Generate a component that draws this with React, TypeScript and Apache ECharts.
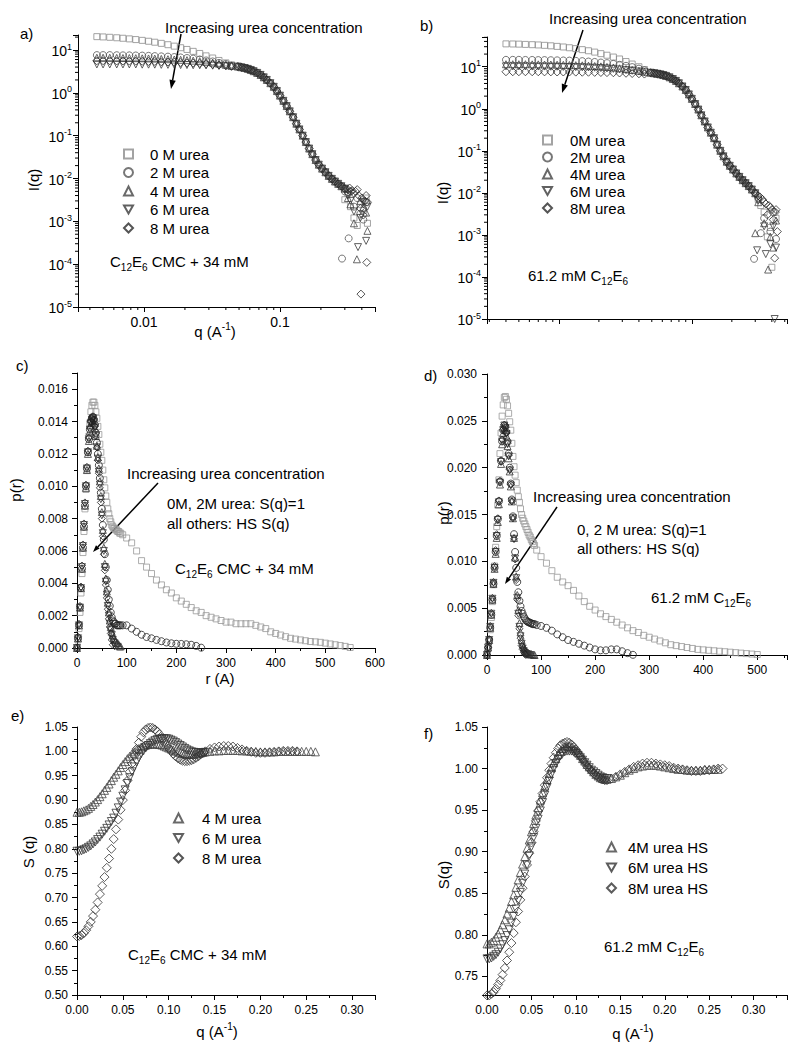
import React, { useEffect, useRef } from 'react';
import * as echarts from 'echarts';

const FONT = "'Liberation Sans', Arial, Helvetica, sans-serif";

// ---------- Panel a : I(q), C12E6 CMC + 34 mM ----------
const qALow = [0.0045, 0.005, 0.0056, 0.0063, 0.007, 0.0078, 0.0087, 0.0097, 0.0108, 0.012, 0.0134, 0.015, 0.0167, 0.0186, 0.0207, 0.023, 0.0257, 0.0286, 0.032, 0.0356, 0.04, 0.044];
const iA0Low = [20.5, 20.2, 19.8, 19.3, 18.8, 18.2, 17.5, 16.8, 16, 15.2, 14.3, 13.3, 12.3, 11.3, 10.3, 9.3, 8.3, 7.3, 6.5, 5.7, 5, 4.5];
const iA2Low = [7.6, 7.6, 7.6, 7.55, 7.5, 7.5, 7.45, 7.4, 7.3, 7.2, 7.1, 7.0, 6.85, 6.7, 6.5, 6.3, 6.0, 5.7, 5.4, 5.0, 4.7, 4.3];
const iA4Low = [6.6, 6.6, 6.6, 6.55, 6.5, 6.5, 6.45, 6.4, 6.35, 6.3, 6.2, 6.1, 6.0, 5.9, 5.8, 5.65, 5.5, 5.3, 5.1, 4.8, 4.5, 4.25];
const iA6Low = [4.6, 4.6, 4.6, 4.6, 4.6, 4.6, 4.6, 4.55, 4.55, 4.55, 4.5, 4.5, 4.5, 4.45, 4.45, 4.4, 4.4, 4.35, 4.3, 4.25, 4.2, 4.1];
const iA8Low = [5.6, 5.6, 5.6, 5.55, 5.55, 5.5, 5.5, 5.45, 5.4, 5.4, 5.3, 5.25, 5.2, 5.1, 5.0, 4.95, 4.85, 4.75, 4.6, 4.45, 4.3, 4.15];
const qMid = [0.049, 0.052, 0.055, 0.058, 0.061, 0.064, 0.068, 0.072, 0.076, 0.08, 0.085, 0.09, 0.095, 0.1, 0.106, 0.112, 0.118, 0.125, 0.132, 0.139, 0.147, 0.155, 0.164, 0.173, 0.183, 0.193, 0.204, 0.216, 0.228, 0.241, 0.254, 0.268, 0.283, 0.3];
const iAMid = [4.1, 3.95, 3.8, 3.62, 3.42, 3.2, 2.92, 2.62, 2.3, 2.0, 1.68, 1.38, 1.1, 0.86, 0.65, 0.49, 0.37, 0.27, 0.19, 0.14, 0.1, 0.071, 0.05, 0.037, 0.027, 0.021, 0.017, 0.014, 0.0115, 0.0098, 0.0085, 0.0075, 0.0066, 0.0058];
const highA0 = [[0.30, 0.0032], [0.316, 0.0045], [0.33, 0.0022], [0.35, 0.0012], [0.37, 0.0008], [0.39, 0.0025], [0.41, 0.0018], [0.43, 0.0035], [0.44, 0.0009]];
const highA2 = [[0.286, 0.000135], [0.30, 0.005], [0.316, 0.0048], [0.32, 0.0004], [0.35, 0.0022], [0.37, 0.0035], [0.39, 0.0015], [0.41, 0.0011], [0.43, 0.0028]];
const highA4 = [[0.316, 0.0035], [0.33, 0.0025], [0.35, 0.0009], [0.368, 0.00013], [0.39, 0.003], [0.41, 0.0021], [0.43, 0.0016], [0.44, 0.0006]];
const highA6 = [[0.316, 0.004], [0.33, 0.003], [0.35, 0.0017], [0.375, 0.00025], [0.39, 0.0012], [0.41, 0.0028], [0.43, 0.00035], [0.44, 0.0022]];
const highA8 = [[0.316, 0.0055], [0.325, 0.006], [0.33, 0.005], [0.34, 0.0052], [0.35, 0.0045], [0.36, 0.005], [0.37, 0.0055], [0.38, 0.004], [0.39, 0.002], [0.394, 0.00002], [0.40, 0.0035], [0.41, 0.0014], [0.42, 0.003], [0.43, 0.004], [0.435, 0.00011], [0.44, 0.0028]];

// ---------- Panel b : I(q), 61.2 mM C12E6 ----------
const qBLow = [0.004, 0.0045, 0.005, 0.0056, 0.0063, 0.007, 0.0078, 0.0087, 0.0097, 0.0108, 0.012, 0.0134, 0.015, 0.0167, 0.0186, 0.0207, 0.023, 0.0257, 0.0286, 0.032, 0.0356, 0.04, 0.044];
const iB0Low = [35, 34.8, 34.5, 34, 33.5, 33, 32.3, 31.5, 30.5, 29.5, 28.3, 27, 25.5, 24, 22.3, 20.5, 18.8, 17, 15.3, 13.3, 11.6, 10, 8.6];
const iB2Low = [14.6, 14.6, 14.6, 14.5, 14.5, 14.4, 14.4, 14.3, 14.2, 14.1, 14.0, 13.8, 13.6, 13.3, 13.0, 12.6, 12.2, 11.7, 11.1, 10.5, 9.8, 9.0, 8.2];
const iB4Low = [11.5, 11.5, 11.5, 11.5, 11.4, 11.4, 11.3, 11.3, 11.2, 11.1, 11.0, 10.9, 10.8, 10.6, 10.4, 10.2, 9.9, 9.6, 9.2, 8.8, 8.4, 8.0, 7.6];
const iB6Low = [10.2, 10.2, 10.2, 10.2, 10.1, 10.1, 10.1, 10.0, 10.0, 9.9, 9.9, 9.8, 9.7, 9.6, 9.5, 9.3, 9.1, 8.9, 8.6, 8.3, 8.0, 7.7, 7.4];
const iB8Low = [7.6, 7.6, 7.6, 7.6, 7.6, 7.6, 7.55, 7.55, 7.5, 7.5, 7.5, 7.45, 7.4, 7.4, 7.35, 7.3, 7.25, 7.2, 7.1, 7.0, 6.9, 6.8, 6.7];
const iBMid = [7.2, 7.0, 6.8, 6.6, 6.35, 6.05, 5.6, 5.1, 4.6, 4.05, 3.4, 2.8, 2.2, 1.72, 1.3, 0.96, 0.7, 0.5, 0.36, 0.27, 0.2, 0.14, 0.1, 0.074, 0.055, 0.044, 0.036, 0.029, 0.024, 0.02, 0.017, 0.0145, 0.012, 0.0098];
const highB0 = [[0.316, 0.007], [0.33, 0.005], [0.35, 0.0035], [0.37, 0.0009], [0.39, 0.0015], [0.40, 0.00017], [0.43, 0.0025]];
const highB2 = [[0.294, 0.00027], [0.316, 0.0075], [0.33, 0.0011], [0.35, 0.0025], [0.39, 0.0012], [0.41, 0.0035], [0.43, 0.0008]];
const highB4 = [[0.30, 0.0011], [0.316, 0.006], [0.35, 0.0019], [0.375, 0.00015], [0.39, 0.0009], [0.41, 0.0005], [0.43, 0.0022]];
const highB6 = [[0.31, 0.00043], [0.316, 0.0065], [0.35, 0.0016], [0.36, 0.00035], [0.39, 0.0006], [0.41, 0.0016], [0.42, 0.00001], [0.43, 0.0005]];
const highB8 = [[0.316, 0.0085], [0.325, 0.008], [0.34, 0.007], [0.35, 0.006], [0.36, 0.0055], [0.37, 0.003], [0.38, 0.005], [0.39, 0.0045], [0.40, 0.004], [0.41, 0.0023], [0.42, 0.00028], [0.425, 0.0035], [0.43, 0.004], [0.44, 0.0012]];

// ---------- Panel c : p(r), C12E6 CMC + 34 mM ----------
const rPeak = [0, 2, 4, 6, 8, 10, 12, 14, 16, 18, 20, 22, 24, 26, 28, 30, 32, 34, 36, 38, 40, 42, 44, 46, 48, 50, 52, 54, 56, 58, 60, 62, 64, 66, 68, 70, 72, 74, 76, 78, 80, 82, 84, 86, 88];
const pC0 = [0, 0.0005, 0.0012, 0.0022, 0.0034, 0.0046, 0.0059, 0.0072, 0.0086, 0.0098, 0.0110, 0.0121, 0.0131, 0.0139, 0.0146, 0.0150, 0.0152, 0.0152, 0.0150, 0.0146, 0.0142, 0.0137, 0.0132, 0.0126, 0.0121, 0.0116, 0.0110, 0.0104, 0.0099, 0.0094, 0.0090, 0.0086, 0.0083, 0.0080, 0.0078, 0.0076, 0.0075, 0.0074, 0.0074, 0.0073, 0.0073, 0.0072, 0.0072, 0.0071, 0.0071];
const rC0Tail = [92, 100, 110, 120, 130, 140, 150, 160, 170, 180, 190, 200, 210, 220, 230, 240, 250, 260, 270, 280, 290, 300, 310, 320, 330, 340, 350, 360, 370, 380, 390, 400, 410, 420, 430, 440, 450, 460, 470, 480, 490, 500, 510, 520, 530, 540, 550];
const pC0Tail = [0.0070, 0.0068, 0.0065, 0.0060, 0.0054, 0.0050, 0.0046, 0.0042, 0.0039, 0.0036, 0.0034, 0.0031, 0.0029, 0.0027, 0.0025, 0.0023, 0.0022, 0.0020, 0.0019, 0.0018, 0.0017, 0.0016, 0.0016, 0.0015, 0.0015, 0.0015, 0.0015, 0.0014, 0.0013, 0.0012, 0.0010, 0.0009, 0.0008, 0.0007, 0.0006, 0.00055, 0.0005, 0.00045, 0.0004, 0.00038, 0.00035, 0.0003, 0.00025, 0.0002, 0.00015, 0.0001, 0.00003];
const pC2 = [0, 0.0006, 0.0014, 0.0025, 0.0037, 0.0049, 0.0062, 0.0075, 0.0088, 0.0100, 0.0111, 0.0121, 0.0129, 0.0135, 0.0140, 0.0142, 0.0143, 0.0141, 0.0138, 0.0133, 0.0127, 0.0120, 0.0113, 0.0105, 0.0096, 0.0086, 0.0076, 0.0067, 0.0058, 0.0050, 0.0042, 0.0036, 0.0030, 0.0026, 0.0022, 0.0019, 0.0017, 0.0016, 0.0015, 0.0015, 0.0014, 0.0014, 0.0014, 0.0014, 0.0014];
const rC2Tail = [92, 100, 110, 120, 130, 140, 150, 160, 170, 180, 190, 200, 210, 220, 230, 240, 250];
const pC2Tail = [0.0014, 0.0014, 0.0012, 0.0010, 0.00082, 0.00068, 0.0006, 0.0005, 0.00042, 0.00034, 0.00029, 0.00026, 0.00025, 0.00023, 0.0002, 0.00013, 0.00002];
const pC4 = [0, 0.0006, 0.0014, 0.0025, 0.0037, 0.0049, 0.0062, 0.0075, 0.0088, 0.0099, 0.0110, 0.0120, 0.0128, 0.0134, 0.0138, 0.0140, 0.0141, 0.0139, 0.0136, 0.0131, 0.0125, 0.0118, 0.0111, 0.0103, 0.0094, 0.0084, 0.0073, 0.0062, 0.0052, 0.0043, 0.0035, 0.0028, 0.0022, 0.0017, 0.0013, 0.0010, 0.0008, 0.0006, 0.0005, 0.0004, 0.0003, 0.0003, 0.0002, 0.0001, 0.0001];
const pC6 = [0, 0.0006, 0.0014, 0.0025, 0.0037, 0.0050, 0.0063, 0.0076, 0.0089, 0.0100, 0.0111, 0.0121, 0.0129, 0.0135, 0.0139, 0.0141, 0.0142, 0.0140, 0.0136, 0.0131, 0.0124, 0.0117, 0.0109, 0.0101, 0.0092, 0.0082, 0.0071, 0.0060, 0.0050, 0.0041, 0.0033, 0.0026, 0.0020, 0.0015, 0.0011, 0.0008, 0.0005, 0.0003, 0.0001];
const pC8 = [0, 0.0007, 0.0015, 0.0026, 0.0038, 0.0051, 0.0064, 0.0077, 0.0090, 0.0101, 0.0112, 0.0122, 0.0130, 0.0136, 0.0140, 0.0142, 0.0143, 0.0141, 0.0137, 0.0131, 0.0124, 0.0116, 0.0108, 0.0099, 0.0090, 0.0080, 0.0069, 0.0058, 0.0048, 0.0039, 0.0031, 0.0024, 0.0018, 0.0013, 0.0009, 0.0005, 0.0002];

// ---------- Panel d : p(r), 61.2 mM C12E6 ----------
const pD0 = [0, 0.0007, 0.0015, 0.0027, 0.0040, 0.0057, 0.0075, 0.0095, 0.0115, 0.0137, 0.0160, 0.0187, 0.0215, 0.0237, 0.0255, 0.0267, 0.0275, 0.0276, 0.0273, 0.0266, 0.0258, 0.0249, 0.0240, 0.0226, 0.0212, 0.0201, 0.0192, 0.0184, 0.0176, 0.0169, 0.0163, 0.0156, 0.0150, 0.0146, 0.0143, 0.0140, 0.0137, 0.0134, 0.0131, 0.0128, 0.0126, 0.0123, 0.0121, 0.0119, 0.0117];
const rD0Tail = [92, 100, 110, 120, 130, 140, 150, 160, 170, 180, 190, 200, 210, 220, 230, 240, 250, 260, 270, 280, 290, 300, 310, 320, 330, 340, 350, 360, 370, 380, 390, 400, 410, 420, 430, 440, 450, 460, 470, 480, 490, 500];
const pD0Tail = [0.0112, 0.0105, 0.0098, 0.0090, 0.0083, 0.0078, 0.0074, 0.0069, 0.0063, 0.0057, 0.0052, 0.0048, 0.0044, 0.0041, 0.0038, 0.0035, 0.0032, 0.0029, 0.0026, 0.0024, 0.0021, 0.0019, 0.0017, 0.0015, 0.0013, 0.0011, 0.0010, 0.0009, 0.0008, 0.0007, 0.0006, 0.00055, 0.0005, 0.00045, 0.0004, 0.00035, 0.0003, 0.00025, 0.0002, 0.00015, 0.0001, 0.00005];
const pD2 = [0, 0.0008, 0.0016, 0.0029, 0.0043, 0.0059, 0.0076, 0.0093, 0.0110, 0.0127, 0.0145, 0.0164, 0.0185, 0.0207, 0.0228, 0.0240, 0.0245, 0.0244, 0.0238, 0.0228, 0.0215, 0.0200, 0.0183, 0.0166, 0.0148, 0.0129, 0.0110, 0.0093, 0.0078, 0.0067, 0.0058, 0.0052, 0.0047, 0.0044, 0.0041, 0.0039, 0.0037, 0.0036, 0.0035, 0.0035, 0.0034, 0.0034, 0.0033, 0.0033, 0.0033];
const rD2Tail = [92, 100, 110, 120, 130, 140, 150, 160, 170, 180, 190, 200, 210, 220, 230, 240, 250, 260, 270];
const pD2Tail = [0.0032, 0.0031, 0.0029, 0.0026, 0.0022, 0.0019, 0.0016, 0.0014, 0.0012, 0.0010, 0.0008, 0.0006, 0.0005, 0.0005, 0.0006, 0.0006, 0.0004, 0.0002, 0.00002];
const pD4 = [0, 0.0008, 0.0016, 0.0029, 0.0043, 0.0059, 0.0076, 0.0092, 0.0108, 0.0125, 0.0142, 0.0161, 0.0182, 0.0204, 0.0225, 0.0237, 0.0242, 0.0240, 0.0234, 0.0223, 0.0210, 0.0196, 0.0180, 0.0164, 0.0146, 0.0125, 0.0104, 0.0084, 0.0064, 0.0048, 0.0034, 0.0024, 0.0016, 0.0011, 0.0008, 0.0006, 0.0004, 0.0003, 0.0002, 0.00015, 0.0001, 0.0001, 0.00005, 0.00003, 0];
const pD6 = [0, 0.0008, 0.0016, 0.0030, 0.0044, 0.0060, 0.0077, 0.0093, 0.0110, 0.0127, 0.0144, 0.0163, 0.0184, 0.0206, 0.0228, 0.0240, 0.0245, 0.0242, 0.0236, 0.0225, 0.0212, 0.0197, 0.0181, 0.0164, 0.0146, 0.0124, 0.0103, 0.0082, 0.0061, 0.0044, 0.0030, 0.0020, 0.0012, 0.0007, 0.0004, 0.0002, 0.0001, 0.00005, 0];
const pD8 = [0, 0.0008, 0.0017, 0.0031, 0.0045, 0.0061, 0.0078, 0.0095, 0.0112, 0.0129, 0.0146, 0.0165, 0.0186, 0.0208, 0.0230, 0.0241, 0.0246, 0.0243, 0.0237, 0.0226, 0.0213, 0.0198, 0.0182, 0.0164, 0.0146, 0.0124, 0.0102, 0.0080, 0.0059, 0.0042, 0.0028, 0.0018, 0.0010, 0.0006, 0.0003, 0.0001, 0];

// ---------- Panel e : S(q), C12E6 CMC + 34 mM ----------
const qE = [0, 0.0025, 0.005, 0.0075, 0.01, 0.0125, 0.015, 0.0175, 0.02, 0.0225, 0.025, 0.0275, 0.03, 0.0325, 0.035, 0.0375, 0.04, 0.0425, 0.045, 0.0475, 0.05, 0.0525, 0.055, 0.0575, 0.06, 0.0625, 0.065, 0.0675, 0.07, 0.0725, 0.075, 0.0775, 0.08, 0.0825, 0.085, 0.0875, 0.09, 0.0925, 0.095, 0.0975, 0.1, 0.1025, 0.105, 0.1075, 0.11, 0.1125, 0.115, 0.1175, 0.12, 0.1225, 0.125, 0.1275, 0.13, 0.1325, 0.135, 0.1375, 0.14];
const sE4 = [0.875, 0.875, 0.876, 0.878, 0.880, 0.883, 0.887, 0.891, 0.896, 0.901, 0.907, 0.913, 0.920, 0.926, 0.933, 0.940, 0.947, 0.953, 0.960, 0.967, 0.973, 0.979, 0.985, 0.990, 0.995, 0.999, 1.003, 1.006, 1.009, 1.011, 1.013, 1.014, 1.015, 1.015, 1.015, 1.015, 1.014, 1.013, 1.011, 1.009, 1.007, 1.005, 1.003, 1.001, 0.999, 0.997, 0.996, 0.995, 0.994, 0.994, 0.994, 0.994, 0.995, 0.996, 0.997, 0.998, 0.999];
const qE4Tail = [0.145, 0.15, 0.155, 0.16, 0.165, 0.17, 0.175, 0.18, 0.185, 0.19, 0.195, 0.2, 0.205, 0.21, 0.215, 0.22, 0.225, 0.23, 0.235, 0.24, 0.245, 0.25, 0.255, 0.26];
const sE4Tail = [1.000, 1.001, 1.001, 1.002, 1.002, 1.002, 1.002, 1.001, 1.001, 1.000, 1.000, 0.999, 0.999, 0.999, 0.999, 1.000, 1.000, 1.000, 1.000, 1.000, 1.000, 1.000, 1.000, 0.999];
const sE6 = [0.795, 0.795, 0.796, 0.798, 0.800, 0.803, 0.806, 0.810, 0.814, 0.819, 0.824, 0.830, 0.836, 0.842, 0.849, 0.856, 0.863, 0.873, 0.884, 0.896, 0.908, 0.921, 0.934, 0.946, 0.958, 0.968, 0.978, 0.987, 0.995, 1.001, 1.007, 1.012, 1.016, 1.019, 1.022, 1.024, 1.025, 1.026, 1.026, 1.026, 1.025, 1.023, 1.021, 1.018, 1.015, 1.012, 1.009, 1.006, 1.003, 1.001, 0.999, 0.998, 0.997, 0.997, 0.997, 0.997, 0.998];
const sE8 = [0.620, 0.621, 0.623, 0.627, 0.633, 0.641, 0.650, 0.662, 0.675, 0.690, 0.707, 0.724, 0.742, 0.761, 0.780, 0.800, 0.820, 0.840, 0.860, 0.880, 0.900, 0.920, 0.940, 0.958, 0.975, 0.991, 1.005, 1.018, 1.030, 1.039, 1.045, 1.048, 1.049, 1.048, 1.045, 1.041, 1.035, 1.028, 1.021, 1.014, 1.007, 1.001, 0.995, 0.990, 0.986, 0.983, 0.981, 0.980, 0.980, 0.981, 0.982, 0.984, 0.987, 0.990, 0.994, 0.997, 1.000];
const qE8Tail = [0.145, 0.15, 0.155, 0.16, 0.165, 0.17, 0.175, 0.18, 0.185, 0.19, 0.195, 0.2, 0.205, 0.21, 0.215, 0.22, 0.225, 0.23, 0.235, 0.24];
const sE8Tail = [1.005, 1.008, 1.010, 1.011, 1.011, 1.010, 1.007, 1.004, 1.001, 0.999, 0.997, 0.997, 0.997, 0.998, 0.999, 1.000, 1.001, 1.001, 1.001, 1.000];

// ---------- Panel f : S(q), 61.2 mM C12E6 ----------
const qF = [0, 0.0025, 0.005, 0.0075, 0.01, 0.0125, 0.015, 0.0175, 0.02, 0.0225, 0.025, 0.0275, 0.03, 0.0325, 0.035, 0.0375, 0.04, 0.0425, 0.045, 0.0475, 0.05, 0.0525, 0.055, 0.0575, 0.06, 0.0625, 0.065, 0.0675, 0.07, 0.0725, 0.075, 0.0775, 0.08, 0.0825, 0.085, 0.0875, 0.09, 0.0925, 0.095, 0.0975, 0.1, 0.1025, 0.105, 0.1075, 0.11, 0.1125, 0.115, 0.1175, 0.12, 0.1225, 0.125, 0.1275, 0.13, 0.1325, 0.135];
const sF4 = [0.789, 0.789, 0.791, 0.793, 0.797, 0.801, 0.806, 0.812, 0.818, 0.825, 0.832, 0.840, 0.848, 0.857, 0.866, 0.875, 0.885, 0.894, 0.904, 0.914, 0.924, 0.934, 0.944, 0.953, 0.962, 0.971, 0.979, 0.987, 0.994, 1.001, 1.007, 1.012, 1.017, 1.021, 1.024, 1.026, 1.027, 1.027, 1.026, 1.024, 1.022, 1.019, 1.016, 1.012, 1.009, 1.005, 1.002, 0.999, 0.996, 0.993, 0.991, 0.989, 0.988, 0.987, 0.987];
const qF4Tail = [0.14, 0.145, 0.15, 0.155, 0.16, 0.165, 0.17, 0.175, 0.18, 0.185, 0.19, 0.195, 0.2, 0.205, 0.21, 0.215, 0.22, 0.225, 0.23, 0.235, 0.24, 0.245, 0.25, 0.255, 0.26];
const sF4Tail = [0.988, 0.990, 0.992, 0.995, 0.998, 1.000, 1.002, 1.003, 1.004, 1.004, 1.004, 1.003, 1.002, 1.001, 1.000, 0.999, 0.999, 0.998, 0.998, 0.998, 0.998, 0.999, 0.999, 0.999, 0.999];
const sF6 = [0.771, 0.771, 0.772, 0.774, 0.776, 0.779, 0.783, 0.788, 0.793, 0.799, 0.806, 0.814, 0.822, 0.831, 0.841, 0.851, 0.862, 0.873, 0.884, 0.895, 0.906, 0.917, 0.928, 0.939, 0.949, 0.959, 0.968, 0.977, 0.985, 0.993, 1.000, 1.006, 1.011, 1.015, 1.018, 1.020, 1.021, 1.021, 1.021, 1.020, 1.018, 1.016, 1.013, 1.010, 1.007, 1.004, 1.001, 0.998, 0.996, 0.994, 0.992, 0.990, 0.989, 0.988, 0.988];
const sF8 = [0.727, 0.727, 0.729, 0.731, 0.735, 0.740, 0.745, 0.752, 0.760, 0.769, 0.779, 0.790, 0.802, 0.815, 0.828, 0.842, 0.856, 0.870, 0.884, 0.898, 0.911, 0.924, 0.937, 0.949, 0.960, 0.970, 0.980, 0.989, 0.998, 1.006, 1.013, 1.019, 1.024, 1.028, 1.030, 1.031, 1.032, 1.031, 1.029, 1.026, 1.023, 1.019, 1.015, 1.011, 1.007, 1.003, 1.000, 0.997, 0.994, 0.992, 0.990, 0.988, 0.987, 0.986, 0.986];
const qF8Tail = [0.14, 0.145, 0.15, 0.155, 0.16, 0.165, 0.17, 0.175, 0.18, 0.185, 0.19, 0.195, 0.2, 0.205, 0.21, 0.215, 0.22, 0.225, 0.23, 0.235, 0.24, 0.245, 0.25, 0.255, 0.26, 0.265];
const sF8Tail = [0.988, 0.990, 0.993, 0.996, 0.999, 1.002, 1.004, 1.006, 1.007, 1.007, 1.006, 1.005, 1.004, 1.003, 1.001, 1.000, 0.999, 0.998, 0.997, 0.997, 0.997, 0.998, 0.998, 0.999, 1.000, 1.000];

// legend labels
const legendA = ['0 M urea', '2 M urea', '4 M urea', '6 M urea', '8 M urea'];
const legendB = ['0M urea', '2M urea', '4M urea', '6M urea', '8M urea'];
const legendE = ['4 M urea', '6 M urea', '8 M urea'];
const legendF = ['4M urea HS', '6M urea HS', '8M urea HS'];

const zip = (xs: number[], ys: number[]) => ys.map((y, i) => [xs[i], y]);

const HOLLOW = 'rgba(0,0,0,0)';
const INV_TRI = 'path://M0,0L10,0L5,8.66Z';
const SYM = {
  sq: { symbol: 'rect', rot: 0 },
  ci: { symbol: 'circle', rot: 0 },
  tr: { symbol: 'triangle', rot: 0 },
  it: { symbol: 'triangle', rot: 180 },
  di: { symbol: 'diamond', rot: 0 },
};

function sc(name: string, data: any[], sym: { symbol: string; rot: number }, color: string, idx: number, size: number) {
  return {
    type: 'scatter',
    name,
    data,
    xAxisIndex: idx,
    yAxisIndex: idx,
    symbol: sym.symbol,
    symbolRotate: sym.rot,
    symbolSize: sym.symbol === 'rect' ? size - 1 : size,
    itemStyle: { color: HOLLOW, borderColor: color, borderWidth: 1 },
    emphasis: { disabled: true },
    silent: true,
    clip: false,
  };
}

const logFmtY = (v: number) => {
  const e = Math.log10(v);
  const r = Math.round(e);
  if (Math.abs(e - r) > 1e-6) return '';
  return '{b|10}{s|' + r + '}';
};
const logFmtX = (v: number) => {
  const e = Math.log10(v);
  const r = Math.round(e);
  if (Math.abs(e - r) > 1e-6) return '';
  return String(Number(v.toPrecision(3)));
};
const stepFmt = (step: number, dec: number) => (v: number) => {
  const k = v / step;
  return Math.abs(k - Math.round(k)) < 1e-6 ? v.toFixed(dec) : '';
};

const axisBase = (idx: number) => ({
  gridIndex: idx,
  axisLine: { show: true, onZero: false, lineStyle: { color: '#000', width: 1 } },
  axisTick: { show: true, length: 5, lineStyle: { color: '#000', width: 1 } },
  minorTick: { show: true, splitNumber: 2, length: 3, lineStyle: { color: '#000', width: 1 } },
  splitLine: { show: false },
  minorSplitLine: { show: false },
});

const richLog = {
  b: { fontSize: 14, fontFamily: FONT, color: '#000', verticalAlign: 'bottom' },
  s: { fontSize: 9, fontFamily: FONT, color: '#000', verticalAlign: 'bottom', padding: [0, 0, 7, 0] },
};

function txt(x: number, y: number, text: string, extra: any = {}) {
  return {
    type: 'text',
    x,
    y,
    silent: true,
    rotation: extra.rotation || 0,
    style: {
      text,
      fontSize: 15,
      fontFamily: FONT,
      fill: extra.fill || '#000',
      align: extra.align || 'left',
      verticalAlign: 'middle',
      rich: extra.rich,
    },
  };
}

const richSub = {
  m: { fontSize: 15, fontFamily: FONT, color: '#000', verticalAlign: 'bottom', padding: [0, 0, 4, 0] },
  s: { fontSize: 10, fontFamily: FONT, color: '#000', verticalAlign: 'bottom' },
};
const richSup = {
  m: { fontSize: 15, fontFamily: FONT, color: '#000', verticalAlign: 'bottom' },
  s: { fontSize: 10, fontFamily: FONT, color: '#000', verticalAlign: 'bottom', padding: [0, 0, 7, 0] },
};
const richSupFaint = {
  m: { ...richSup.m, color: '#e2e2e2' },
  s: { ...richSup.s, color: '#e2e2e2' },
};

function arrow(x1: number, y1: number, x2: number, y2: number, hl = 9, hw = 3.2) {
  const dx = x2 - x1, dy = y2 - y1;
  const L = Math.sqrt(dx * dx + dy * dy);
  const ux = dx / L, uy = dy / L;
  const bx = x2 - ux * hl, by = y2 - uy * hl;
  return [
    { type: 'line', silent: true, shape: { x1, y1, x2: bx, y2: by }, style: { stroke: '#000', lineWidth: 1.5 } },
    {
      type: 'polygon', silent: true,
      shape: { points: [[x2, y2], [bx - uy * hw, by + ux * hw], [bx + uy * hw, by - ux * hw]] },
      style: { fill: '#000' },
    },
  ];
}

function legendCfg(names: string[], invIdx: number, left: number, top: number, gap: number, pad: number) {
  return {
    orient: 'vertical',
    left,
    top,
    itemWidth: 9,
    itemHeight: 9,
    itemGap: gap,
    selectedMode: false,
    data: names.map((n, i) => (i === invIdx ? { name: n, icon: INV_TRI } : n)),
    textStyle: { fontSize: 15, fontFamily: FONT, color: '#000', padding: [0, 0, 0, pad], lineHeight: 16 },
  };
}

const GRIDS = [
  { left: 78, top: 35, width: 297, height: 272 },
  { left: 487, top: 37, width: 300, height: 282 },
  { left: 77, top: 373, width: 298, height: 275 },
  { left: 487, top: 374, width: 300, height: 281 },
  { left: 77, top: 727, width: 298, height: 268 },
  { left: 487, top: 727, width: 300, height: 268 },
];

// log-axis extents (a: x, y; b: x, y)
const LOG_X = [[0.00327, 0.5], [0.00288, 0.52]];
const LOG_Y = [[0.00001, 22.4], [0.00001, 51]];

export default function App() {
  const ref = useRef<HTMLDivElement>(null);
  useEffect(() => {
    document.body.style.margin = '0';
    const chart = echarts.init(ref.current!, null, { renderer: 'svg' });

    const lbl = (fmt: any, margin: number) => ({ formatter: fmt, fontSize: 12, fontFamily: FONT, color: '#000', margin });
    const noMinor = { show: false };

    const xAxes: any[] = [
      { ...axisBase(0), type: 'log', min: LOG_X[0][0], max: LOG_X[0][1], minorTick: noMinor,
        axisLabel: { formatter: logFmtX, fontSize: 14, fontFamily: FONT, color: '#000', margin: 8 } },
      { ...axisBase(1), type: 'log', min: LOG_X[1][0], max: LOG_X[1][1], minorTick: noMinor,
        axisLabel: { show: false } },
      { ...axisBase(2), type: 'value', min: 0, max: 600, interval: 100, axisLabel: lbl(stepFmt(100, 0), 9) },
      { ...axisBase(3), type: 'value', min: 0, max: 555, interval: 100, axisLabel: lbl(stepFmt(100, 0), 9) },
      { ...axisBase(4), type: 'value', min: 0, max: 0.325, interval: 0.05, axisLabel: lbl(stepFmt(0.05, 2), 9) },
      { ...axisBase(5), type: 'value', min: 0, max: 0.3375, interval: 0.05, axisLabel: lbl(stepFmt(0.05, 2), 9) },
    ];
    const yAxes: any[] = [
      { ...axisBase(0), type: 'log', min: LOG_Y[0][0], max: LOG_Y[0][1], minorTick: noMinor,
        axisLabel: { formatter: logFmtY, rich: richLog, margin: 6 } },
      { ...axisBase(1), type: 'log', min: LOG_Y[1][0], max: LOG_Y[1][1], minorTick: noMinor,
        axisLabel: { formatter: logFmtY, rich: richLog, margin: 6 } },
      { ...axisBase(2), type: 'value', min: 0, max: 0.017, interval: 0.002, axisLabel: lbl(stepFmt(0.002, 3), 9) },
      { ...axisBase(3), type: 'value', min: 0, max: 0.03, interval: 0.005, axisLabel: lbl(stepFmt(0.005, 3), 10) },
      { ...axisBase(4), type: 'value', min: 0.5, max: 1.05, interval: 0.05, axisLabel: lbl(stepFmt(0.05, 2), 9) },
      { ...axisBase(5), type: 'value', min: 0.7275, max: 1.05, splitNumber: 6, axisLabel: lbl(stepFmt(0.05, 2), 9) },
    ];

    const series: any[] = [
      // a
      sc('0 M urea', zip(qALow, iA0Low).concat(zip(qMid, iAMid), highA0), SYM.sq, '#8c8c8c', 0, 7),
      sc('2 M urea', zip(qALow, iA2Low).concat(zip(qMid, iAMid), highA2), SYM.ci, '#555', 0, 7),
      sc('4 M urea', zip(qALow, iA4Low).concat(zip(qMid, iAMid), highA4), SYM.tr, '#444', 0, 7),
      sc('6 M urea', zip(qALow, iA6Low).concat(zip(qMid, iAMid), highA6), SYM.it, '#3a3a3a', 0, 7),
      sc('8 M urea', zip(qALow, iA8Low).concat(zip(qMid, iAMid), highA8), SYM.di, '#2a2a2a', 0, 8),
      // b
      sc('0M urea', zip(qBLow, iB0Low).concat(zip(qMid, iBMid), highB0), SYM.sq, '#8c8c8c', 1, 7),
      sc('2M urea', zip(qBLow, iB2Low).concat(zip(qMid, iBMid), highB2), SYM.ci, '#555', 1, 7),
      sc('4M urea', zip(qBLow, iB4Low).concat(zip(qMid, iBMid), highB4), SYM.tr, '#444', 1, 7),
      sc('6M urea', zip(qBLow, iB6Low).concat(zip(qMid, iBMid), highB6), SYM.it, '#3a3a3a', 1, 7),
      sc('8M urea', zip(qBLow, iB8Low).concat(zip(qMid, iBMid), highB8), SYM.di, '#2a2a2a', 1, 8),
      // c
      sc('c 0 M', zip(rPeak, pC0).concat(zip(rC0Tail, pC0Tail)), SYM.sq, '#999', 2, 7),
      sc('c 4 M', zip(rPeak, pC4), SYM.tr, '#333', 2, 7),
      sc('c 6 M', zip(rPeak, pC6), SYM.it, '#333', 2, 7),
      sc('c 8 M', zip(rPeak, pC8), SYM.di, '#222', 2, 7),
      sc('c 2 M', zip(rPeak, pC2).concat(zip(rC2Tail, pC2Tail)), SYM.ci, '#222', 2, 7),
      // d
      sc('d 0 M', zip(rPeak, pD0).concat(zip(rD0Tail, pD0Tail)), SYM.sq, '#999', 3, 7),
      sc('d 4 M', zip(rPeak, pD4), SYM.tr, '#333', 3, 7),
      sc('d 6 M', zip(rPeak, pD6), SYM.it, '#333', 3, 7),
      sc('d 8 M', zip(rPeak, pD8), SYM.di, '#222', 3, 7),
      sc('d 2 M', zip(rPeak, pD2).concat(zip(rD2Tail, pD2Tail)), SYM.ci, '#222', 3, 7),
      // e
      sc('4 M urea', zip(qE, sE4).concat(zip(qE4Tail, sE4Tail)), SYM.tr, '#444', 4, 8),
      sc('6 M urea', zip(qE, sE6), SYM.it, '#333', 4, 8),
      sc('8 M urea', zip(qE, sE8).concat(zip(qE8Tail, sE8Tail)), SYM.di, '#333', 4, 9),
      // f
      sc('4M urea HS', zip(qF, sF4).concat(zip(qF4Tail, sF4Tail)), SYM.tr, '#444', 5, 8),
      sc('6M urea HS', zip(qF, sF6), SYM.it, '#333', 5, 8),
      sc('8M urea HS', zip(qF, sF8).concat(zip(qF8Tail, sF8Tail)), SYM.di, '#333', 5, 9),
    ];

    const graphics: any[] = [
      // panel letters
      txt(20, 33, 'a)'), txt(420, 25, 'b)'), txt(16, 365, 'c)'),
      txt(424, 375, 'd)'), txt(11, 715, 'e)'), txt(424, 733, 'f)'),
      // a
      txt(165, 27, 'Increasing urea concentration'),
      ...arrow(181, 34, 171, 89),
      txt(110, 263, '{m|C}{s|12}{m|E}{s|6}{m| CMC + 34 mM}', { rich: richSub }),
      txt(33, 180, 'I(q)', { rotation: Math.PI / 2, align: 'center' }),
      txt(215, 330, '{m|q (A}{s|-1}{m|)}', { align: 'center', rich: richSupFaint }),
      // b
      txt(549, 18, 'Increasing urea concentration'),
      ...arrow(583, 30, 562, 93),
      txt(528, 277, '{m|61.2 mM C}{s|12}{m|E}{s|6}', { rich: richSub }),
      txt(442, 193, 'I(q)', { rotation: Math.PI / 2, align: 'center' }),
      // c
      txt(127, 473, 'Increasing urea concentration'),
      ...arrow(158, 483, 93, 552, 7, 2.5),
      txt(167, 503, '0M, 2M urea: S(q)=1'),
      txt(167, 523, 'all others: HS S(q)'),
      txt(175, 570, '{m|C}{s|12}{m|E}{s|6}{m| CMC + 34 mM}', { rich: richSub }),
      txt(15, 490, 'p(r)', { rotation: Math.PI / 2, align: 'center' }),
      txt(220, 678, 'r (A)', { align: 'center' }),
      // d
      txt(533, 496, 'Increasing urea concentration'),
      ...arrow(557, 507, 505, 584, 7, 2.5),
      txt(577, 529, '0, 2 M urea: S(q)=1'),
      txt(577, 548, 'all others: HS S(q)'),
      txt(651, 599, '{m|61.2 mM C}{s|12}{m|E}{s|6}', { rich: richSub }),
      txt(443, 513, 'p(r)', { rotation: Math.PI / 2, align: 'center' }),
      // e
      txt(128, 956, '{m|C}{s|12}{m|E}{s|6}{m| CMC + 34 mM}', { rich: richSub }),
      txt(28, 852, 'S (q)', { rotation: Math.PI / 2, align: 'center' }),
      txt(217, 1030, '{m|q (A}{s|-1}{m|)}', { align: 'center', rich: richSup }),
      // f
      txt(604, 948, '{m|61.2 mM C}{s|12}{m|E}{s|6}', { rich: richSub }),
      txt(443, 875, 'S(q)', { rotation: Math.PI / 2, align: 'center' }),
      txt(633, 1032, '{m|q (A}{s|-1}{m|)}', { align: 'center', rich: richSup }),
    ];

    chart.setOption({
      animation: false,
      backgroundColor: '#fff',
      grid: GRIDS,
      xAxis: xAxes,
      yAxis: yAxes,
      legend: [
        legendCfg(legendA, 3, 118, 141, 2.5, 12),
        legendCfg(legendB, 3, 537, 127, 1, 13),
        legendCfg(legendE, 1, 168, 805, 4, 14),
        legendCfg(legendF, 1, 601, 834, 4.5, 7),
      ],
      series,
      graphic: graphics,
    });

    // Origin-style minor ticks (2..9 x 10^n) on the log axes, placed through the axes' own scales
    const minor: any[] = [];
    const tick = (x1: number, y1: number, x2: number, y2: number) =>
      minor.push({ type: 'line', silent: true, shape: { x1, y1, x2, y2 }, style: { stroke: '#000', lineWidth: 1 } });
    for (let idx = 0; idx < 2; idx++) {
      const g = GRIDS[idx];
      const [x0, x1] = LOG_X[idx];
      const [y0, y1] = LOG_Y[idx];
      for (let e = -6; e <= 2; e++) {
        for (let k = 2; k <= 9; k++) {
          const v = k * Math.pow(10, e);
          if (v > x0 && v < x1) {
            const px = chart.convertToPixel({ xAxisIndex: idx } as any, v) as number;
            tick(px, g.top + g.height, px, g.top + g.height + 3);
          }
          if (v > y0 && v < y1) {
            const py = chart.convertToPixel({ yAxisIndex: idx } as any, v) as number;
            tick(g.left - 3, py, g.left, py);
          }
        }
      }
    }
    chart.setOption({ graphic: graphics.concat(minor) });

    return () => chart.dispose();
  }, []);
  return <div ref={ref} style={{ width: 801, height: 1050 }} />;
}
